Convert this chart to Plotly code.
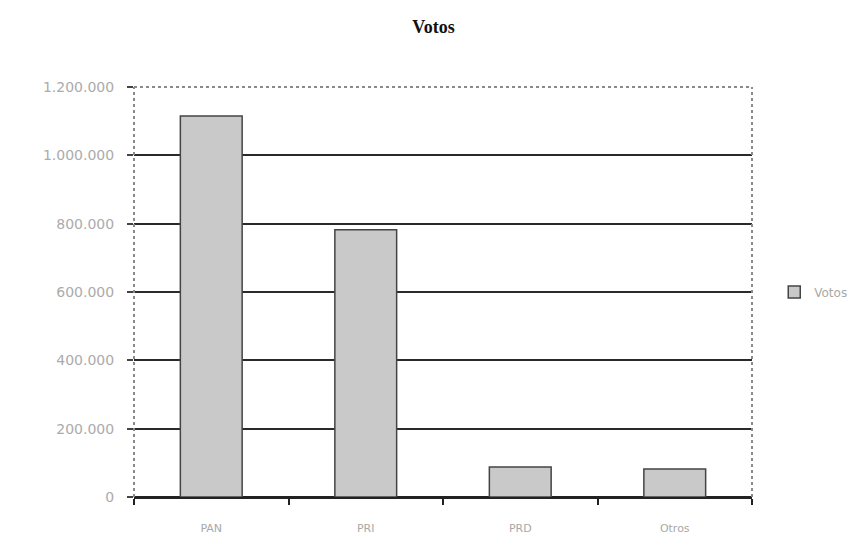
import plotly.graph_objects as go

# Votes per party
partidos = ["PAN", "PRI", "PRD", "Otros"]
votos = [1115000, 782000, 88000, 82000]
y_ticks = [0, 200000, 400000, 600000, 800000, 1000000, 1200000]

fig = go.Figure()
fig.add_trace(go.Bar(
    x=partidos,
    y=votos,
    name="Votos",
    width=0.4,
    marker=dict(color="#c9c9c9", line=dict(color="#444444", width=1.5)),
))

# Dotted frame around the plotting area
frame = dict(type="line", xref="paper", yref="paper",
             line=dict(color="#8a8a8a", width=2, dash="dot"))
fig.add_shape(**frame, x0=0, x1=1, y0=1, y1=1)
fig.add_shape(**frame, x0=1, x1=1, y0=0, y1=1)
fig.add_shape(**frame, x0=0, x1=0, y0=0, y1=1)

fig.update_layout(
    width=867, height=540,
    margin=dict(l=134, r=115, t=87, b=43, autoexpand=False),
    paper_bgcolor="white",
    plot_bgcolor="white",
    separators=",.",
    title=dict(text="<b>Votos</b>", x=0.5, xanchor="center", y=0.95, yanchor="middle",
               font=dict(family="Liberation Serif", size=18, color="#111111")),
    font=dict(family="Liberation Sans", size=11, color="#9a9a9a"),
    showlegend=True,
    legend=dict(x=1.036, y=0.5, xanchor="left", yanchor="middle",
                font=dict(family="DejaVu Sans", size=12, color="#a8a8a8"), itemwidth=30),
    xaxis=dict(
        showgrid=False,
        showline=True, linecolor="#222222", linewidth=2,
        ticks="outside", tickson="boundaries", ticklen=6, tickcolor="#222222",
        tickwidth=2,
        ticklabelstandoff=20,
        tickfont=dict(family="DejaVu Sans", size=11, color="#a8a8a8"),
    ),
    yaxis=dict(
        range=[0, 1200000],
        tickvals=y_ticks,
        tickformat=",d",
        showgrid=True, gridcolor="#2a2a2a", gridwidth=2,
        showline=False,
        zeroline=True, zerolinecolor="#222222", zerolinewidth=2,
        ticks="outside", ticklen=6, tickcolor="#444444", tickwidth=2,
        ticklabelstandoff=10,
        tickfont=dict(family="DejaVu Sans", size=14, color="#ababab"),
    ),
)

fig.write_html("out.html")
